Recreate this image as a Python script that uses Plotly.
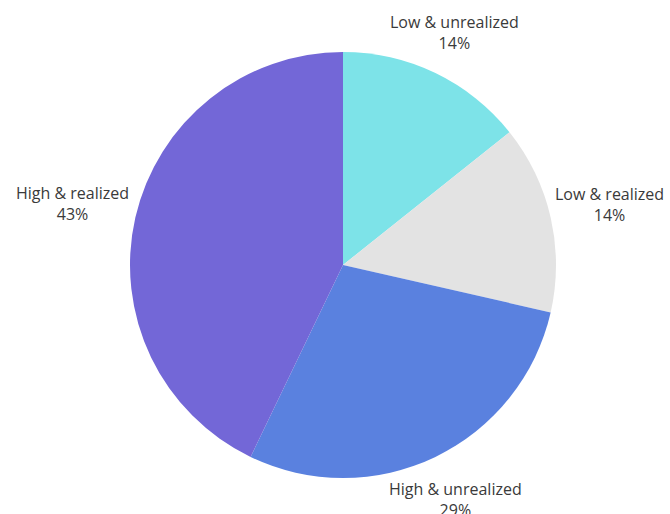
import math
import plotly.graph_objects as go

# Segments, listed clockwise from 12 o'clock
categories = ["Low & unrealized", "Low & realized", "High & unrealized", "High & realized"]
counts = [1, 1, 2, 3]
slice_colors = ["#7de3e8", "#e3e3e3", "#5a81df", "#7367d7"]

W, H = 670, 514
cx, cy, r = 343, 265, 213  # pie centre (px from top-left) and radius
font_size = 16
line_h = 18          # px per text line
label_gap = 0        # px between the rim and the nearest side of a label box

fig = go.Figure(
    go.Pie(
        labels=categories,
        values=counts,
        sort=False,
        direction="clockwise",
        rotation=0,
        marker=dict(colors=slice_colors, line=dict(width=0)),
        textinfo="none",
        showlegend=False,
        hoverinfo="label+percent",
        domain=dict(
            x=[(cx - r) / W, (cx + r) / W],
            y=[(H - cy - r) / H, (H - cy + r) / H],
        ),
    )
)

# Outside labels: each box sits just beyond the rim on its slice's mid-angle
total = sum(counts)
running = 0
for name, v in zip(categories, counts):
    mid = 2 * math.pi * (running + v / 2) / total
    running += v
    pct = f"{round(100 * v / total)}%"
    dx, dy = math.sin(mid), -math.cos(mid)
    box_w = max(len(name), len(pct)) * 0.52 * font_size
    box_h = 2 * line_h
    dist = r + label_gap + abs(dx) * box_w / 2 + abs(dy) * box_h / 2
    px, py = cx + dist * dx, cy + dist * dy
    fig.add_annotation(
        x=px / W,
        y=1 - py / H,
        xref="paper",
        yref="paper",
        text=f"{name}<br>{pct}",
        showarrow=False,
        xanchor="center",
        yanchor="middle",
        align="center",
        font=dict(family="Open Sans", size=font_size, color="#3a3a3a"),
    )

fig.update_layout(
    width=W,
    height=H,
    margin=dict(l=0, r=0, t=0, b=0, autoexpand=False),
    paper_bgcolor="white",
    plot_bgcolor="white",
)

fig.write_html("out.html")
